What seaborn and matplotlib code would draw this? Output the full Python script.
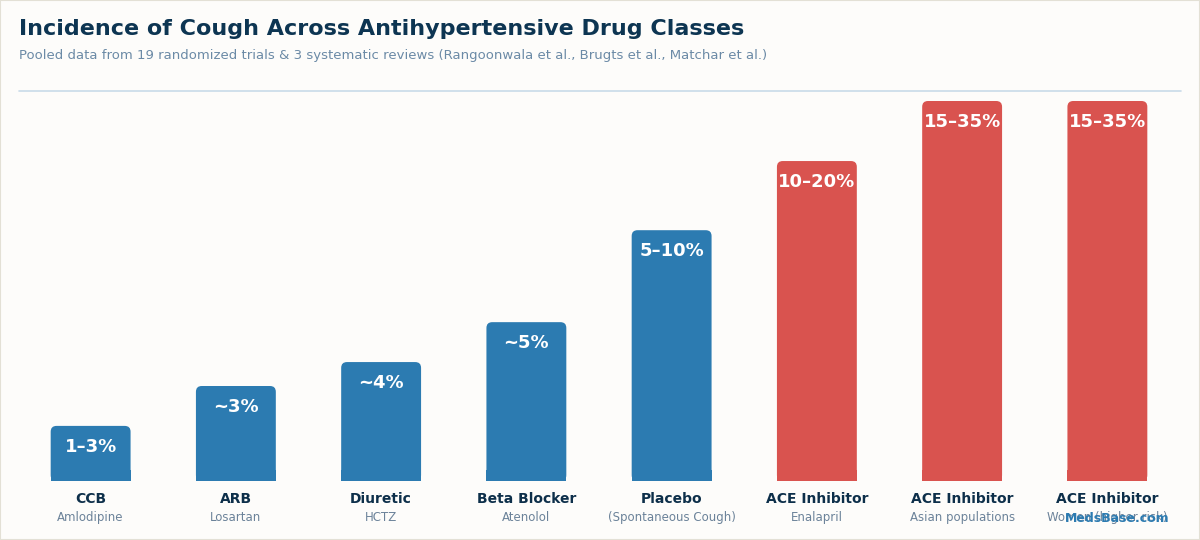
import matplotlib
matplotlib.use("Agg")
import matplotlib.pyplot as plt
from matplotlib.patches import FancyBboxPatch
import seaborn as sns
import pandas as pd

categories = ["CCB", "ARB", "Diuretic", "Beta Blocker", "Placebo", "ACE Inhibitor", "ACE Inhibitor ", "ACE Inhibitor  "]
subtitles = ["Amlodipine", "Losartan", "HCTZ", "Atenolol", "(Spontaneous Cough)", "Enalapril", "Asian populations", "Women (higher risk)"]
labels = ["1–3%", "~3%", "~4%", "~5%", "5–10%", "10–20%", "15–35%", "15–35%"]
heights = [14.5, 25, 31.3, 41.8, 66, 84.2, 100, 100]
groups = ["other"] * 5 + ["ace"] * 3

sns.set_theme(style="white")
plt.rcParams['font.family'] = ['DejaVu Sans']
df = pd.DataFrame({"cat": categories, "h": heights, "g": groups})

fig = plt.figure(figsize=(12, 5.4), dpi=100, facecolor="#fdfcfa")
ax = fig.add_axes([18/1200, 1-481/540, 1162/1200, 380/540])
ax.set_facecolor("#fdfcfa")
sns.barplot(data=df, x="cat", y="h", hue="g", palette={"other": "#2c7bb1", "ace": "#d9534f"},
            width=0.55, dodge=False, legend=False, ax=ax, saturation=1)
ax.set_ylim(0, 100)
ax.set_xlim(-0.5, 7.5)

# round the top corners of each bar
for p in list(ax.patches):
    x, y, w, h = p.get_x(), p.get_y(), p.get_width(), p.get_height()
    if h <= 0:
        continue
    fc = p.get_facecolor()
    p.remove()
    ax.add_patch(FancyBboxPatch((x, y), w, h, boxstyle="round,pad=0,rounding_size=0.04",
                                mutation_aspect=100/380*145/1, facecolor=fc, edgecolor="none"))
    ax.add_patch(plt.Rectangle((x, y), w, min(h, 3), facecolor=fc, edgecolor="none"))

for s in ax.spines.values():
    s.set_visible(False)
ax.set_xticks([]); ax.set_yticks([])
ax.set_xlabel(""); ax.set_ylabel("")
for i, (h, l) in enumerate(zip(heights, labels)):
    ax.text(i, h - 3.2, l, ha="center", va="top", color="white", fontsize=13, fontweight="bold")
    ax.text(i, -3.0, categories[i].strip(), ha="center", va="top", color="#0d2f4a", fontsize=10, fontweight="bold")
    ax.text(i, -7.8, subtitles[i], ha="center", va="top", color="#6b8299", fontsize=8.5)

fig.text(19/1200, 1-29/540, "Incidence of Cough Across Antihypertensive Drug Classes", fontsize=16,
         fontweight="bold", color="#0d3552", va="center")
fig.text(19/1200, 1-55/540, "Pooled data from 19 randomized trials & 3 systematic reviews (Rangoonwala et al., Brugts et al., Matchar et al.)",
         fontsize=9.5, color="#6b8aa6", va="center")
fig.add_artist(plt.Line2D([19/1200, 1181/1200], [1-91/540]*2, color="#c9dbe8", lw=1.2))
fig.text(1117/1200, 1-518/540, "MedsBase.com", fontsize=9, fontweight="bold", color="#2c7bb1", ha="center", va="center")
fig.add_artist(plt.Rectangle((0, 0), 1, 1, fill=False, edgecolor="#e3e0d5", lw=1.5, transform=fig.transFigure))
fig.savefig("out.png", dpi=100, facecolor=fig.get_facecolor())
